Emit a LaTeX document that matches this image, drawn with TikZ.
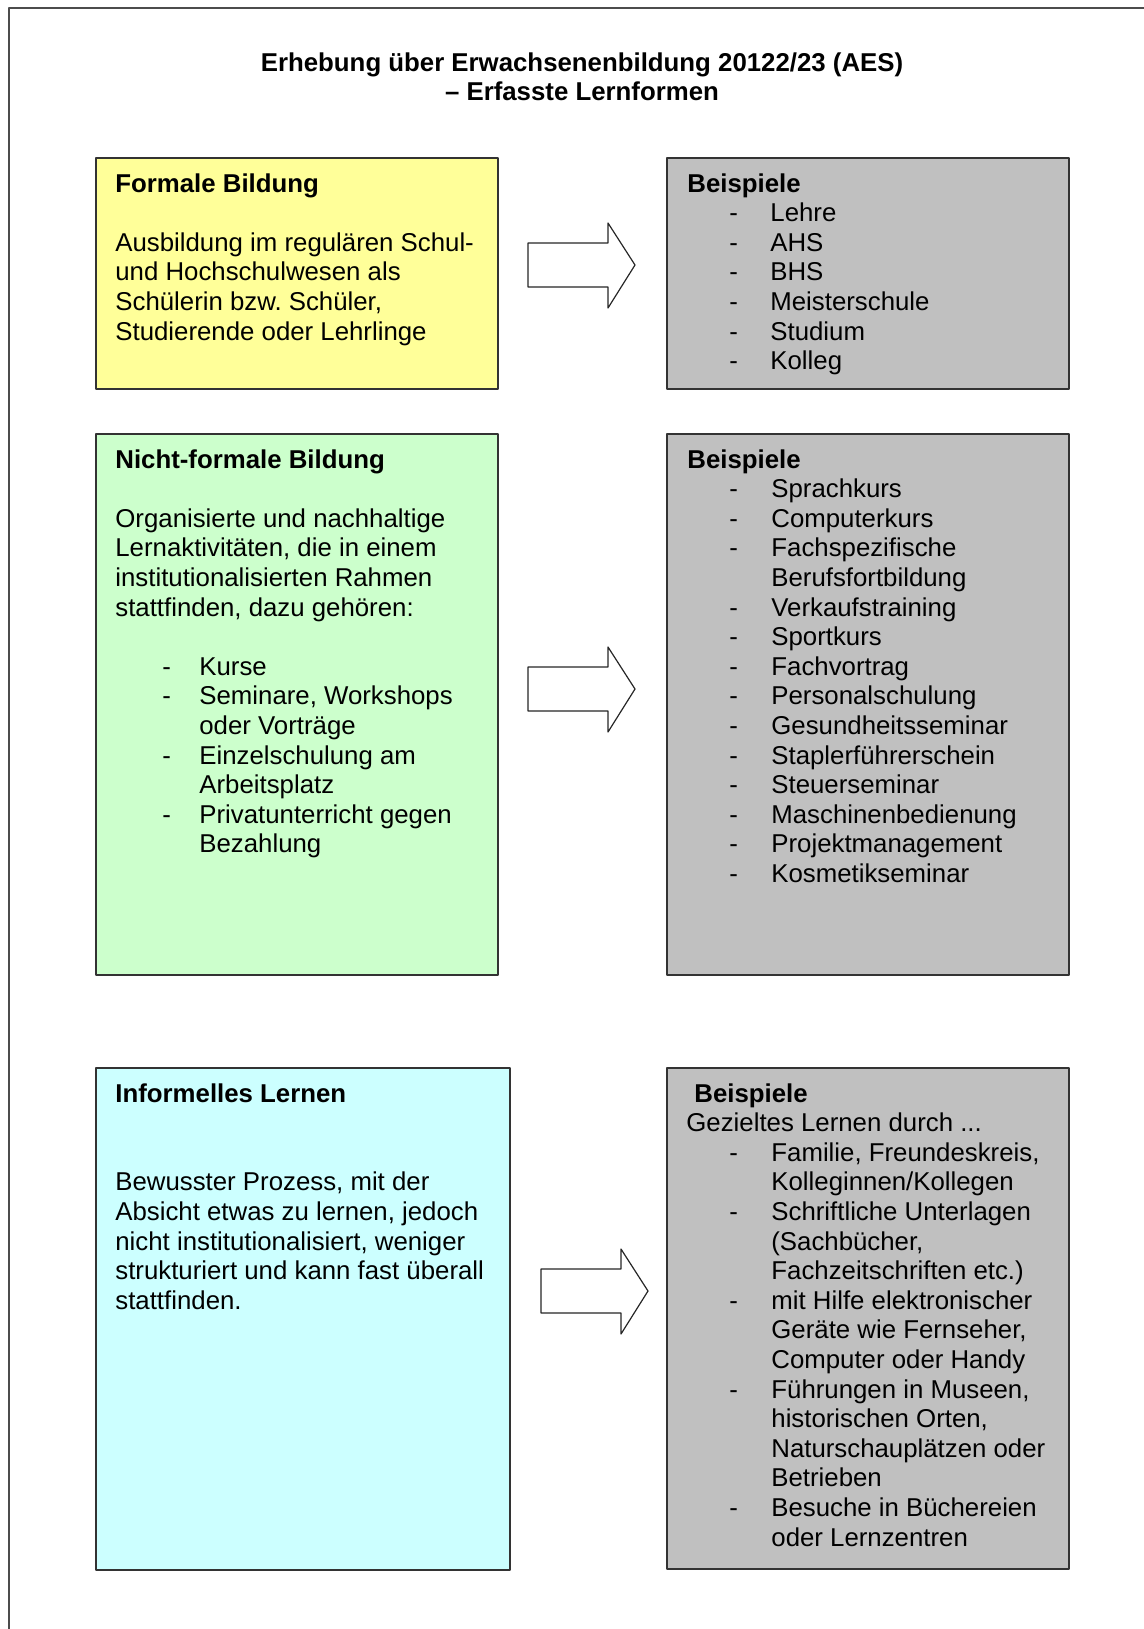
\documentclass[tikz,border=0pt]{standalone}
\usepackage{fontspec}
\setmainfont{Liberation Sans}
\usepackage{tikz}
\usetikzlibrary{calc}
\definecolor{yelbox}{HTML}{FFFF99}
\definecolor{grnbox}{HTML}{CCFFCC}
\definecolor{cyabox}{HTML}{CCFFFF}
\definecolor{grybox}{HTML}{C0C0C0}
\frenchspacing
\begin{document}
\begin{tikzpicture}[x=0.5pt,y=-0.5pt,line join=round,
  box/.style={draw=black!80,line width=1pt},
  txt/.style={anchor=base west,inner sep=0pt,font=\fontsize{12.9pt}{14.8pt}\selectfont},
  hd/.style={txt,font=\fontsize{12.9pt}{14.8pt}\selectfont\bfseries},
  arr/.style={draw=black!85,line width=0.6pt,fill=white}]
\useasboundingbox (0,0) rectangle (1144,1629);
\draw[draw=black!70,line width=1pt] (9,1629) -- (9,8) -- (1144,8);
\node[hd,anchor=base] (title1) at (582,71) {Erhebung über Erwachsenenbildung 20122/23 (AES)};
\node[hd,anchor=base] (title2) at (582,100) {– Erfasste Lernformen};
\foreach \c/\xa/\ya/\xb/\yb in {yelbox/96/158/498/389,grybox/667/158/1069/389,grnbox/96/434/498/975,grybox/667/434/1069/975,cyabox/96/1068/510/1570,grybox/667/1068/1069/1569}
  \draw[box,fill=\c] (\xa,\ya) rectangle (\xb,\yb);
\foreach \n/\x/\y in {A/528/265,B/528/689,C/541/1291}{
  \coordinate (\n) at (\x,\y);
  \draw[arr] (\n) ++(0,-22) -- ++(80,0) -- ++(0,-20) -- ++(27,42) -- ++(-27,43) -- ++(0,-21) -- ++(-80,0) -- cycle;}
% Formale Bildung
\node[hd] (fb) at (115,192) {Formale Bildung};
\foreach \t [count=\k from 2] in {Ausbildung im regulären Schul-,und Hochschulwesen als,{Schülerin bzw. Schüler,},Studierende oder Lehrlinge}
  \node[txt] (fb-\k) at (115,{192+\k*29.6}) {\t};
\node[hd] (bsp1) at (687,192) {Beispiele};
\foreach \t [count=\k] in {Lehre,AHS,BHS,Meisterschule,Studium,Kolleg}{
  \node[txt] (d1-\k) at (729,{192+\k*29.6}) {-};
  \node[txt] (bsp1-\k) at (770,{192+\k*29.6}) {\t};}
% Nicht-formale Bildung
\node[hd] (nfb) at (115,468) {Nicht-formale Bildung};
\foreach \t [count=\k from 2] in {Organisierte und nachhaltige,{Lernaktivitäten, die in einem},institutionalisierten Rahmen,{stattfinden, dazu gehören:}}
  \node[txt] (nfb-\k) at (115,{468+\k*29.6}) {\t};
\foreach \k/\t in {7/Kurse,8/{Seminare, Workshops},9/oder Vorträge,10/Einzelschulung am,11/Arbeitsplatz,12/Privatunterricht gegen,13/Bezahlung}
  \node[txt] (nfb-\k) at (199,{468+\k*29.6}) {\t};
\foreach \k in {7,8,10,12}
  \node[txt] (d2-\k) at (162,{468+\k*29.6}) {-};
\node[hd] (bsp2) at (687,468) {Beispiele};
\foreach \t [count=\k] in {Sprachkurs,Computerkurs,Fachspezifische,Berufsfortbildung,Verkaufstraining,Sportkurs,Fachvortrag,Personalschulung,Gesundheitsseminar,Staplerführerschein,Steuerseminar,Maschinenbedienung,Projektmanagement,Kosmetikseminar}
  \node[txt] (bsp2-\k) at (771,{468+\k*29.6}) {\t};
\foreach \k in {1,2,3,5,6,7,8,9,10,11,12,13,14}
  \node[txt] (d3-\k) at (729,{468+\k*29.6}) {-};
% Informelles Lernen
\node[hd] (inf) at (115,1102) {Informelles Lernen};
\foreach \t [count=\k from 3] in {{Bewusster Prozess, mit der},{Absicht etwas zu lernen, jedoch},{nicht institutionalisiert, weniger},strukturiert und kann fast überall,stattfinden.}
  \node[txt] (inf-\k) at (115,{1102+\k*29.6}) {\t};
\node[hd] (bsp3) at (694,1102) {Beispiele};
\node[txt] (bsp3-1) at (686,1131.6) {Gezieltes Lernen durch ...};
\foreach \t [count=\k from 2] in {{Familie, Freundeskreis,},Kolleginnen/Kollegen,Schriftliche Unterlagen,{(Sachbücher,},Fachzeitschriften etc.),mit Hilfe elektronischer,{Geräte wie Fernseher,},Computer oder Handy,{Führungen in Museen,},{historischen Orten,},Naturschauplätzen oder,Betrieben,Besuche in Büchereien,oder Lernzentren}
  \node[txt] (bsp3-\k) at (771,{1102+\k*29.6}) {\t};
\foreach \k in {2,4,7,10,14}
  \node[txt] (d4-\k) at (729,{1102+\k*29.6}) {-};
\end{tikzpicture}
\end{document}
